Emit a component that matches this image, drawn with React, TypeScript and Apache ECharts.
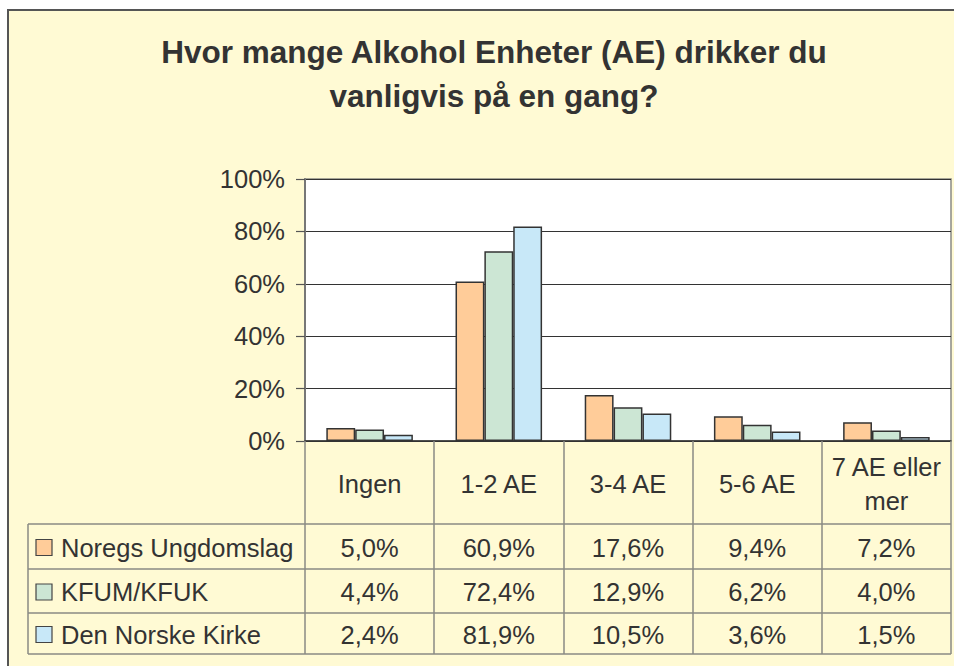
import React, { useEffect, useRef } from "react";
import * as echarts from "echarts";

const titleText = "Hvor mange Alkohol Enheter (AE) drikker du\nvanligvis på en gang?";
const categories = ["Ingen", "1-2 AE", "3-4 AE", "5-6 AE", "7 AE eller\nmer"];
const seriesNames = ["Noregs Ungdomslag", "KFUM/KFUK", "Den Norske Kirke"];
const noregsUngdomslag = [5.0, 60.9, 17.6, 9.4, 7.2];
const kfumKfuk = [4.4, 72.4, 12.9, 6.2, 4.0];
const denNorskeKirke = [2.4, 81.9, 10.5, 3.6, 1.5];
const seriesValues = [noregsUngdomslag, kfumKfuk, denNorskeKirke];
const seriesColors = ["#FFCC99", "#CCE6D4", "#C8E8F8"];
const yTicks = [0, 20, 40, 60, 80, 100];

const FONT = "'Liberation Sans', Arial, Helvetica, sans-serif";
const TEXT = "#333333";
const BG = "#FFFAD4";
const LINE = "#8a8a84";
const FS = 25.5;

const GRID_LEFT = 305;
const GRID_TOP = 179;
const GRID_W = 646;
const GRID_H = 262;
const GRID_BOTTOM = GRID_TOP + GRID_H;
const GRID_RIGHT = GRID_LEFT + GRID_W;
const TABLE_LEFT = 28;
const HEADER_BOTTOM = 524;
const ROW_BOTTOMS = [569, 613, 654];

const fmt = (v: number) => v.toFixed(1).replace(".", ",") + "%";

export default function App() {
  const ref = useRef<HTMLDivElement>(null);
  useEffect(() => {
    if (!ref.current) return;
    const chart = echarts.init(ref.current, null, { renderer: "svg" });
    const colW = GRID_W / categories.length;
    const graphics: any[] = [];
    graphics.push({
      type: "rect",
      z: -100,
      shape: { x: 8, y: 10, width: 980, height: 700 },
      style: { fill: BG, stroke: "#555", lineWidth: 2 },
    });
    const hLines = [HEADER_BOTTOM, ...ROW_BOTTOMS];
    hLines.forEach((y) => {
      graphics.push({
        type: "line",
        z: 100,
        shape: { x1: TABLE_LEFT, y1: y, x2: GRID_RIGHT, y2: y },
        style: { stroke: LINE, lineWidth: 1.5 },
      });
    });
    graphics.push({
      type: "line",
      z: 100,
      shape: { x1: TABLE_LEFT, y1: HEADER_BOTTOM, x2: TABLE_LEFT, y2: ROW_BOTTOMS[2] },
      style: { stroke: LINE, lineWidth: 1.5 },
    });
    let prev = HEADER_BOTTOM;
    ROW_BOTTOMS.forEach((yb, r) => {
      const cy = (prev + yb) / 2 + 1;
      prev = yb;
      graphics.push({
        type: "rect",
        z: 100,
        shape: { x: 36, y: cy - 8, width: 16, height: 16 },
        style: { fill: seriesColors[r], stroke: "#444", lineWidth: 1.2 },
      });
      graphics.push({
        type: "text",
        z: 100,
        x: 61,
        y: cy,
        style: {
          text: seriesNames[r],
          fontSize: FS,
          fontFamily: FONT,
          fill: TEXT,
          align: "left",
          verticalAlign: "middle",
        },
      });
      seriesValues[r].forEach((v, i) => {
        graphics.push({
          type: "text",
          z: 100,
          x: GRID_LEFT + (i + 0.5) * colW,
          y: cy,
          style: {
            text: fmt(v),
            fontSize: FS,
            fontFamily: FONT,
            fill: TEXT,
            align: "center",
            verticalAlign: "middle",
          },
        });
      });
    });

    chart.setOption({
      animation: false,
      backgroundColor: "#ffffff",
      title: {
        text: titleText,
        left: 489,
        top: 25,
        textAlign: "center",
        textStyle: {
          fontSize: 31.5,
          fontWeight: "bold",
          fontFamily: FONT,
          color: TEXT,
          lineHeight: 44,
        },
      },
      grid: {
        left: GRID_LEFT,
        top: GRID_TOP,
        width: GRID_W,
        height: GRID_H,
        show: true,
        backgroundColor: "#ffffff",
        borderColor: LINE,
        borderWidth: 1.5,
      },
      xAxis: {
        type: "category",
        data: categories,
        axisLine: { lineStyle: { color: "#333", width: 1.5 } },
        axisTick: {
          show: true,
          length: ROW_BOTTOMS[2] - GRID_BOTTOM,
          lineStyle: { color: LINE, width: 1.5 },
        },
        axisLabel: {
          interval: 0,
          margin: 43,
          verticalAlign: "middle",
          fontSize: FS,
          lineHeight: 34,
          fontFamily: FONT,
          color: TEXT,
        },
      },
      yAxis: {
        type: "value",
        min: yTicks[0],
        max: yTicks[yTicks.length - 1],
        interval: 20,
        axisLine: { show: true, lineStyle: { color: "#777", width: 2 } },
        axisTick: { show: true, length: 9, lineStyle: { color: "#555", width: 1.2 } },
        axisLabel: {
          formatter: "{value}%",
          fontSize: FS,
          margin: 20,
          fontFamily: FONT,
          color: TEXT,
        },
        splitLine: { lineStyle: { color: "#333", width: 1 } },
      },
      series: seriesNames.map((name, k) => ({
        name,
        type: "bar",
        data: seriesValues[k],
        barGap: "0%",
        barCategoryGap: "33%",
        itemStyle: { color: seriesColors[k], borderColor: "#333", borderWidth: 1.5 },
      })),
      graphic: graphics,
    });
    return () => chart.dispose();
  }, []);
  return (
    <div
      ref={ref}
      style={{ position: "fixed", left: 0, top: 0, width: 954, height: 666 }}
    />
  );
}
